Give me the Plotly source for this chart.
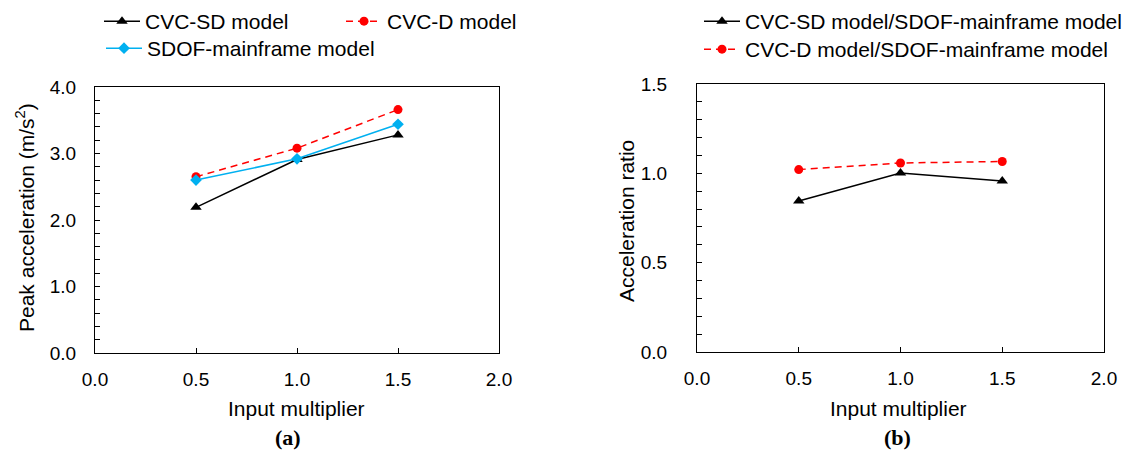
import plotly.graph_objects as go

# Data
multiplier = [0.5, 1.0, 1.5]
cvc_sd_peak = [2.19, 2.91, 3.28]
cvc_d_peak = [2.65, 3.08, 3.66]
sdof_peak = [2.60, 2.92, 3.44]
ratio_sd = [0.845, 1.002, 0.957]
ratio_d = [1.021, 1.058, 1.066]

W, H = 1137, 459
OFF = 8  # page body margin
FONT = "Liberation Sans, Arial, sans-serif"
SERIF = "Liberation Serif, Times New Roman, serif"
BLUE = "#00B0F0"
RED = "#FF0000"
DASH = "7px,5px"

def px(x):
    return (x - OFF) / W

def py(y):
    return 1 - (y - OFF) / H

fig = go.Figure()

fig.add_trace(go.Scatter(x=multiplier, y=cvc_sd_peak, name="CVC-SD model", mode="lines+markers",
                         line=dict(color="black", width=1.5),
                         marker=dict(symbol="triangle-up", size=10, color="black"),
                         xaxis="x", yaxis="y", legend="legend", showlegend=True))
fig.add_trace(go.Scatter(x=multiplier, y=cvc_d_peak, name="CVC-D model", mode="lines+markers",
                         line=dict(color=RED, width=1.5, dash=DASH),
                         marker=dict(symbol="circle", size=9, color=RED),
                         xaxis="x", yaxis="y", legend="legend3"))
fig.add_trace(go.Scatter(x=multiplier, y=sdof_peak, name="SDOF-mainframe model", mode="lines+markers",
                         line=dict(color=BLUE, width=1.5),
                         marker=dict(symbol="diamond", size=9, color=BLUE),
                         xaxis="x", yaxis="y", legend="legend4"))

fig.add_trace(go.Scatter(x=multiplier, y=ratio_sd, name="CVC-SD model/SDOF-mainframe model", mode="lines+markers",
                         line=dict(color="black", width=1.5),
                         marker=dict(symbol="triangle-up", size=10, color="black"),
                         xaxis="x2", yaxis="y2", legend="legend2"))
fig.add_trace(go.Scatter(x=multiplier, y=ratio_d, name="CVC-D model/SDOF-mainframe model", mode="lines+markers",
                         line=dict(color=RED, width=1.5, dash=DASH),
                         marker=dict(symbol="circle", size=9, color=RED),
                         xaxis="x2", yaxis="y2", legend="legend5"))

axis_common = dict(showline=True, linecolor="black", linewidth=1, mirror=True,
                   ticks="inside", ticklen=5, tickcolor="black", showgrid=False, zeroline=False,
                   automargin=False,
                   tickfont=dict(family=FONT, size=19, color="black"), tickformat=".1f")

LEG_TXT_DX = 46   # legend left edge -> text start
LEG_TXT_DY = 20   # legend top edge -> text centre

def leg(text_x, text_y):
    return dict(x=px(text_x - LEG_TXT_DX), y=py(text_y - LEG_TXT_DY),
                xanchor="left", yanchor="top", bgcolor="rgba(0,0,0,0)",
                font=dict(family=FONT, size=21, color="black"), itemwidth=36, visible=True)

def ann(text, x, y, size, angle=0, family=FONT):
    return dict(text=text, x=px(x), y=py(y), xref="paper", yref="paper",
                xanchor="center", yanchor="middle", textangle=angle, showarrow=False,
                font=dict(family=family, size=size, color="black"))

fig.update_layout(
    width=W, height=H,
    showlegend=True,
    margin=dict(l=0, r=0, t=0, b=0, autoexpand=False),
    paper_bgcolor="white", plot_bgcolor="white",
    font=dict(family=FONT, color="black"),
    xaxis=dict(domain=[px(95), px(499)], range=[0, 2], dtick=0.5, anchor="y",
               ticklabelstandoff=9, **axis_common),
    yaxis=dict(domain=[py(353), py(87)], range=[0, 4], dtick=1, anchor="x",
               ticklabelstandoff=14,
               minor=dict(dtick=0.2, ticks="inside", ticklen=5, tickcolor="black"), **axis_common),
    xaxis2=dict(domain=[px(697), px(1104)], range=[0, 2], dtick=0.5, anchor="y2",
                ticklabelstandoff=9, **axis_common),
    yaxis2=dict(domain=[py(352), py(84)], range=[0, 1.5], dtick=0.5, anchor="x2",
                ticklabelstandoff=25,
                minor=dict(dtick=0.1, ticks="inside", ticklen=5, tickcolor="black"), **axis_common),
    legend=leg(145, 21),
    legend4=leg(147, 48),
    legend3=leg(387, 21),
    legend2=leg(745, 21),
    legend5=leg(745, 49),
    annotations=[
        ann("Input multiplier", 296, 408, 21),
        ann("Input multiplier", 898, 408, 21),
        ann("Peak acceleration (m/s<sup>2</sup>)", 25, 218, 21, -90),
        ann("Acceleration ratio", 626, 221, 21, -90),
        ann("<b>(a)</b>", 288, 437, 22, family=SERIF),
        ann("<b>(b)</b>", 897, 437, 22, family=SERIF),
    ],
)

fig.write_html("out.html")
